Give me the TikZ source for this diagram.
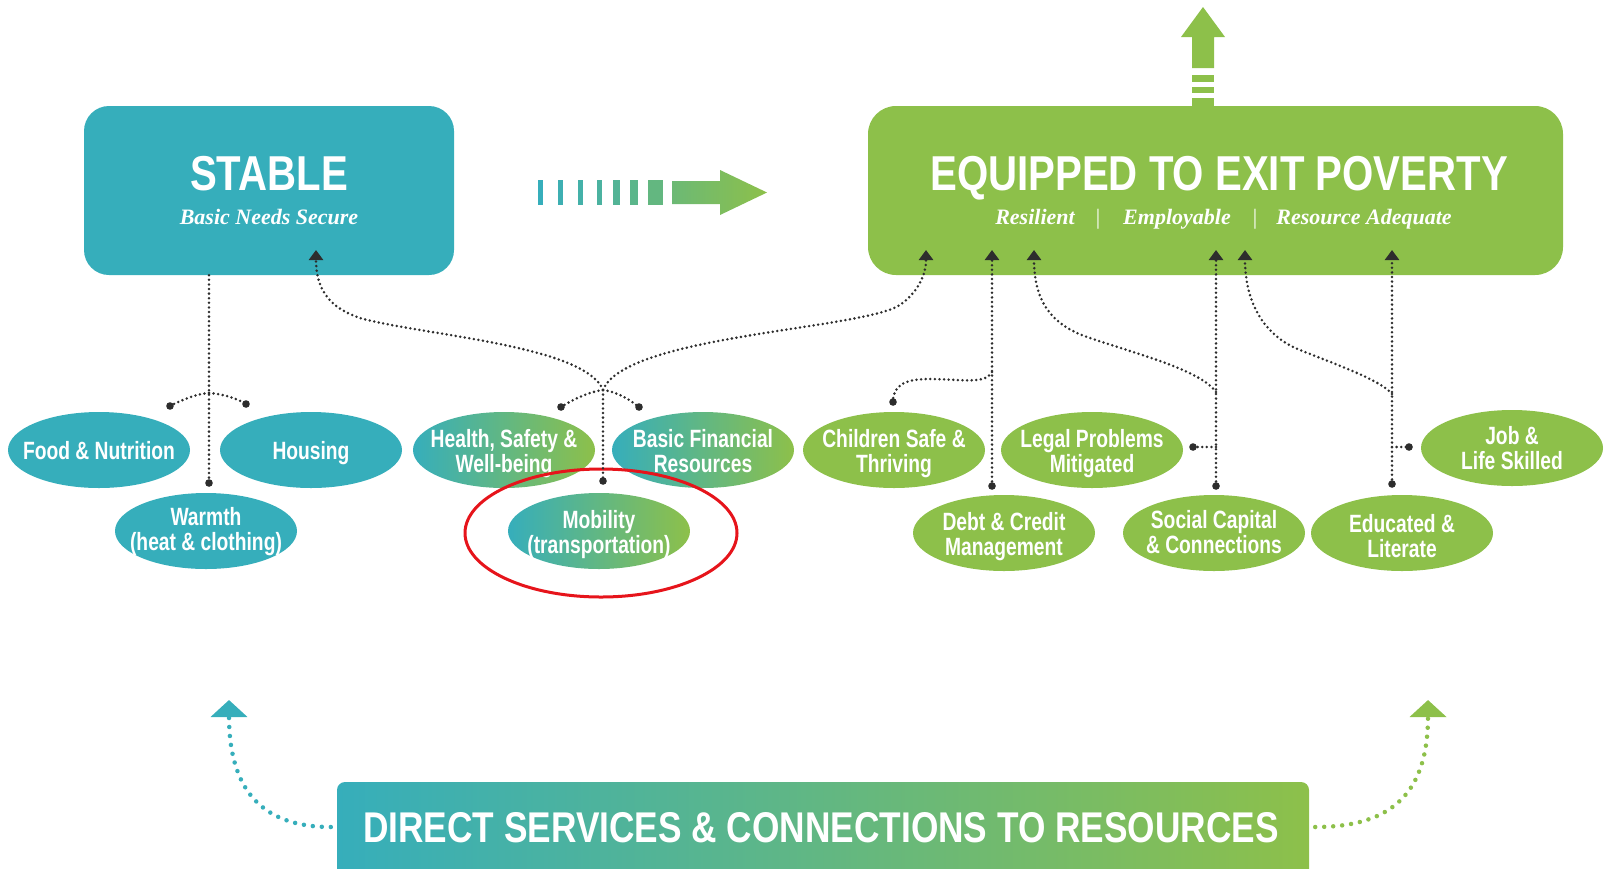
\documentclass[tikz,border=0pt]{standalone}
\usepackage{fontspec}
\setmainfont{Liberation Sans}
\newfontfamily\titlefont[FakeStretch=0.82]{Liberation Sans}
\newfontfamily\elfont[FakeStretch=0.77]{Liberation Sans}
\newfontfamily\subfont{Liberation Serif}
\usetikzlibrary{shapes.geometric,arrows.meta}
\definecolor{tealc}{RGB}{54,174,187}
\definecolor{greenc}{RGB}{141,192,74}
\definecolor{dotc}{RGB}{45,45,45}
\definecolor{redc}{RGB}{230,20,27}
\begin{document}
\begin{tikzpicture}[x=1pt,y=-1pt,
  oval/.style={ellipse, minimum width=182pt, minimum height=76pt, inner sep=0pt, draw=none},
  tealoval/.style={oval, fill=tealc},
  greenoval/.style={oval, fill=greenc},
  mixoval/.style={oval, left color=tealc, right color=greenc},
  lbl/.style={text=white, font=\elfont\bfseries\fontsize{25}{25}\selectfont, align=center, inner sep=0pt, anchor=base},
  titletext/.style={text=white, font=\titlefont\bfseries\fontsize{49}{55}\selectfont, inner sep=0pt, anchor=base},
  subtext/.style={text=white, font=\subfont\bfseries\itshape\fontsize{22}{26}\selectfont, inner sep=0pt, anchor=base},
  bartext/.style={text=white, font=\subfont\fontsize{22}{26}\selectfont, inner sep=0pt, anchor=base},
  dotline/.style={draw=dotc, line width=2.8pt, dash pattern=on 0pt off 4.6pt, line cap=round},
  tipd/.style={-{Triangle[width=14pt,length=10pt]}},
  bigdots/.style={line width=4.5pt, dash pattern=on 0pt off 9pt, line cap=round, -{Triangle[width=36pt,length=17pt]}},
]
\useasboundingbox (0,0) rectangle (1605,868);
\clip (0,0) rectangle (1605,868);

% main boxes
\node (stable) [fill=tealc, rounded corners=25pt, minimum width=370pt, minimum height=169pt, inner sep=0pt] at (269,190.5) {};
\node (equip) [fill=greenc, rounded corners=28pt, minimum width=695pt, minimum height=169pt, inner sep=0pt] at (1215.5,190.5) {};
\node (stableT) [titletext] at (269,190) {STABLE};
\node (stableS) [subtext] at (269,224) {Basic Needs Secure};
\node (equipT) [titletext] at (1219,190) {EQUIPPED TO EXIT POVERTY};
\node (resil) [subtext] at (1035,224) {Resilient};
\node (bar1) [bartext] at (1098,224) {|};
\node (employ) [subtext] at (1177,224) {Employable};
\node (bar2) [bartext] at (1255,224) {|};
\node (resad) [subtext] at (1364,224) {Resource Adequate};

% striped arrow between boxes
\fill[tealc] (538,180) rectangle (543,205);
\fill[greenc!8!tealc] (558,180) rectangle (563,205);
\fill[greenc!16!tealc] (578,180) rectangle (583,205);
\fill[greenc!24!tealc] (597,180) rectangle (602,205);
\fill[greenc!33!tealc] (613,180) rectangle (620,205);
\fill[greenc!42!tealc] (630,180) rectangle (638,205);
\fill[greenc!52!tealc] (648,180) rectangle (663,205);
\shade[left color=greenc!62!tealc, right color=greenc] (672,181) -- (720,181) -- (720,170) -- (767,192.5) -- (720,215) -- (720,204) -- (672,204) -- cycle;

% up arrow
\fill[greenc] (1192,68) -- (1192,37) -- (1181,37) -- (1203,7) -- (1225,37) -- (1214,37) -- (1214,68) -- cycle;
\fill[greenc] (1192,75) rectangle (1214,82);
\fill[greenc] (1192,87) rectangle (1214,93);
\fill[greenc] (1192,98) rectangle (1214,107);

% ovals
\node[tealoval] (food) at (99,450) {};
\node[lbl] (foodT) at (99,459) {Food \& Nutrition};
\node[tealoval] (house) at (311,450) {};
\node[lbl] (houseT) at (311,459) {Housing};
\node[tealoval] (warm) at (206,531) {};
\node[lbl] (warmT) at (206,550) {Warmth\\(heat \& clothing)};
\node[mixoval] (health) at (504,450) {};
\node[lbl] (healthT) at (504,472) {Health, Safety \&\\Well-being};
\node[mixoval] (basic) at (703,450) {};
\node[lbl] (basicT) at (703,472) {Basic Financial\\Resources};
\node[mixoval] (mob) at (599,531) {};
\node[lbl] (mobT) at (599,553) {Mobility\\(transportation)};
\node[greenoval] (child) at (894,450) {};
\node[lbl] (childT) at (894,472) {Children Safe \&\\Thriving};
\node[greenoval] (legal) at (1092,450) {};
\node[lbl] (legalT) at (1092,472) {Legal Problems\\Mitigated};
\node[greenoval] (debt) at (1004,533) {};
\node[lbl] (debtT) at (1004,555) {Debt \& Credit\\Management};
\node[greenoval] (social) at (1214,533) {};
\node[lbl] (socialT) at (1214,553) {Social Capital\\\& Connections};
\node[greenoval] (edu) at (1402,533) {};
\node[lbl] (eduT) at (1402,557) {Educated \&\\Literate};
\node[greenoval] (job) at (1512,448) {};
\node[lbl] (jobT) at (1512,469) {Job \&\\Life Skilled};

% highlight ring
\node (ring) [ellipse, draw=redc, line width=3pt, minimum width=272pt, minimum height=128pt, inner sep=0pt] at (601,533) {};

% connector coordinates
\coordinate (jL) at (209,393);
\coordinate (dFood) at (170,406);
\coordinate (dHouse) at (246,404);
\coordinate (dWarm) at (209,483);
\coordinate (aS) at (316,250);
\coordinate (jM) at (603,390);
\coordinate (dHealth) at (561,407);
\coordinate (dBasic) at (639,407);
\coordinate (dMob) at (603,481);
\coordinate (aE1) at (926,250);
\coordinate (aE2) at (992,250);
\coordinate (jD) at (992,372);
\coordinate (dDebt) at (992,486);
\coordinate (dChild) at (893,402);
\coordinate (aE3) at (1034,250);
\coordinate (aE4) at (1216,250);
\coordinate (jS) at (1216,392);
\coordinate (jLg) at (1216,447);
\coordinate (dLegal) at (1193,447);
\coordinate (dSoc) at (1216,486);
\coordinate (aE5) at (1245,250);
\coordinate (aE6) at (1392,250);
\coordinate (jE) at (1392,394);
\coordinate (jJ) at (1392,447);
\coordinate (dJob) at (1409,447);
\coordinate (dEdu) at (1392,484);

% left tree
\draw[dotline] (stable.south -| dWarm) -- (dWarm);
\draw[dotline] (jL) .. controls (195,394) and (182,400) .. (dFood);
\draw[dotline] (jL) .. controls (223,394) and (236,398) .. (dHouse);

% middle tree
\draw[dotline, tipd] (jM) .. controls (585,345) and (420,335) .. (360,318) .. controls (330,308) and (316,290) .. (aS);
\draw[dotline, tipd] (jM) .. controls (625,335) and (860,330) .. (900,305) .. controls (918,292) and (926,275) .. (aE1);
\draw[dotline] (jM) .. controls (588,392) and (572,400) .. (dHealth);
\draw[dotline] (jM) .. controls (618,392) and (630,400) .. (dBasic);
\draw[dotline] (jM) -- (dMob);

% right trees
\draw[dotline, tipd] (dDebt) -- (aE2);
\draw[dotline] (jD) .. controls (985,385) and (960,379) .. (930,379) .. controls (905,379) and (893,385) .. (dChild);
\draw[dotline, tipd] (jS) .. controls (1200,370) and (1140,355) .. (1090,338) .. controls (1050,325) and (1034,300) .. (aE3);
\draw[dotline, tipd] (dSoc) -- (aE4);
\draw[dotline] (jLg) -- (dLegal);
\draw[dotline, tipd] (jE) .. controls (1380,380) and (1340,366) .. (1300,350) .. controls (1262,335) and (1245,300) .. (aE5);
\draw[dotline, tipd] (dEdu) -- (aE6);
\draw[dotline] (jJ) -- (dJob);

% end dots
\foreach \p in {dFood,dHouse,dWarm,dHealth,dBasic,dMob,dDebt,dChild,dLegal,dSoc,dJob,dEdu}
  \fill[dotc] (\p) circle (3.8pt);

% bottom box
\node (direct) [left color=tealc, right color=greenc, rounded corners=8pt, minimum width=972pt, minimum height=110pt, inner sep=0pt] at (823,837) {};
\node (directT) [text=white, font=\titlefont\bfseries\fontsize{43}{50}\selectfont, inner sep=0pt, anchor=base] at (821,842) {DIRECT SERVICES \& CONNECTIONS TO RESOURCES};

\coordinate (blT) at (229,700);
\coordinate (brT) at (1428,700);
\draw[bigdots, draw=tealc] (direct.west |- 0,827) ++(-6,0) .. controls (262,827) and (229,790) .. (blT);
\draw[bigdots, draw=greenc] (direct.east |- 0,827) ++(6,0) .. controls (1395,827) and (1428,790) .. (brT);
\end{tikzpicture}
\end{document}
